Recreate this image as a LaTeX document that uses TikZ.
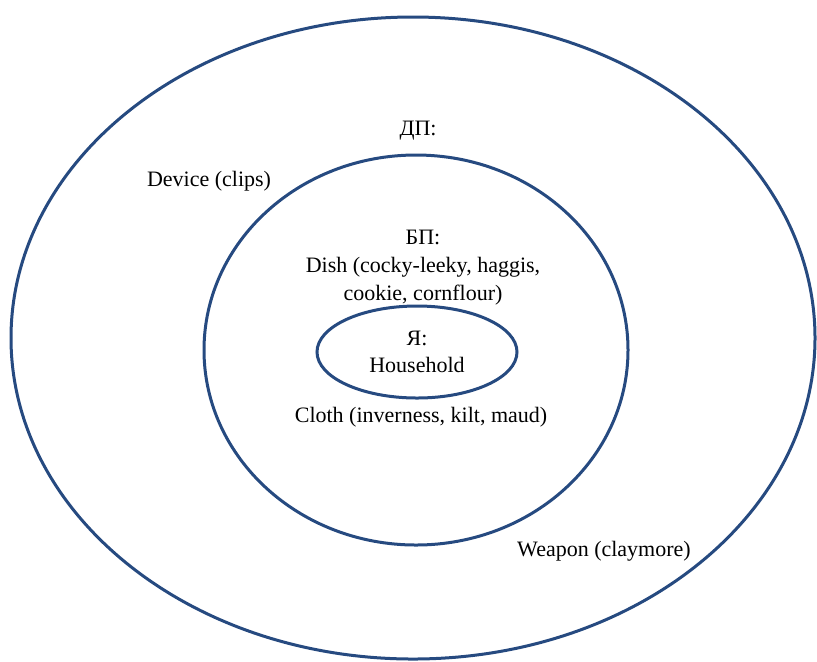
\documentclass[tikz,border=0pt]{standalone}
\usepackage{fontspec}
\setmainfont{Liberation Serif}
\usetikzlibrary{positioning}
\definecolor{ringblue}{RGB}{38,74,128}

\begin{document}
\begin{tikzpicture}[x=0.5pt, y=-0.5pt, ring/.style={draw=ringblue,
	line width=1.5pt}, lbl/.style={font=\fontsize{11}{14}\selectfont,
	align=center, inner sep=0pt}]
\useasboundingbox (0,0) rectangle (817,661);
\draw[ring] (413,338) ellipse [x radius=402, y radius=321];
\draw[ring] (416,350) ellipse [x radius=212, y radius=195];
\draw[ring] (417,352) ellipse [x radius=100, y radius=46];
\node[lbl] (0) at (418,131) {ДП:};
\node[lbl] (1) at (209,181) {Device (clips)};
\node[lbl] (2) at (423,268) {БП:\\Dish (cocky-leeky, haggis,\\cookie, cornflour)};
\node[lbl,font=\fontsize{11}{13.5}\selectfont] (3) at (417,352) {Я:\\Household};
\node[lbl] (4) at (421,417) {Cloth (inverness, kilt, maud)};
\node[lbl] (5) at (604,551) {Weapon (claymore)};
\end{tikzpicture}
\end{document}
